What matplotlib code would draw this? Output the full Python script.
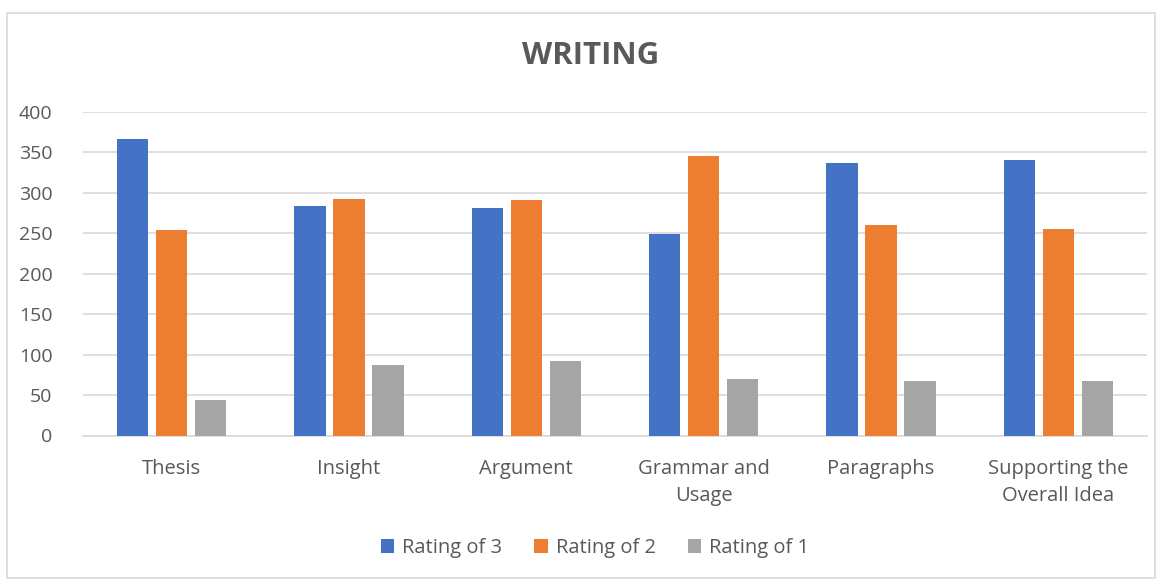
import matplotlib
matplotlib.use("Agg")
import matplotlib.pyplot as plt
import numpy as np
from matplotlib.patches import Rectangle

categories = ["Thesis", "Insight", "Argument", "Grammar and\nUsage", "Paragraphs", "Supporting the\nOverall Idea"]
series_names = ["Rating of 3", "Rating of 2", "Rating of 1"]
rating3 = [366, 284, 281, 249, 337, 341]
rating2 = [254, 292, 291, 345, 260, 255]
rating1 = [44, 87, 92, 70, 67, 68]
colors = ["#4472C4", "#ED7D31", "#A5A5A5"]
yticks = [0, 50, 100, 150, 200, 250, 300, 350, 400]

plt.rcParams['font.family'] = ['Open Sans', 'DejaVu Sans']
txt = "#595959"

fig = plt.figure(figsize=(11.62, 5.8), dpi=100)
fig.patches.append(Rectangle((7/1162, 1-578/580), 1-14/1162, (578-13)/580, transform=fig.transFigure,
                             fill=False, edgecolor="#D9D9D9", linewidth=1.2))
ax = fig.add_axes([83/1162, 1-435.5/580, (1147-83)/1162, (435.5-112)/580])

x = np.arange(len(categories))
w = 0.175
off = 0.22
for i, (vals, name, c) in enumerate(zip([rating3, rating2, rating1], series_names, colors)):
    ax.bar(x + (i-1)*off, vals, width=w, color=c, label=name, zorder=3)

ax.set_xlim(-0.5, len(categories)-0.5)
ax.set_ylim(0, 400)
ax.set_yticks(yticks)
ax.yaxis.grid(True, color="#D9D9D9", linewidth=1.2, zorder=0)
for s in ["top", "right", "left"]:
    ax.spines[s].set_visible(False)
ax.spines["bottom"].set_color("#D9D9D9")
ax.spines["bottom"].set_linewidth(1.2)
ax.tick_params(axis="x", length=0, colors=txt, labelsize=14.5, pad=17)
ax.tick_params(axis="y", length=0, colors=txt, labelsize=14, pad=22)
ax.set_xticks(x)
ax.set_xticklabels(categories, linespacing=1.45)
for lab in ax.get_yticklabels():
    lab.set_horizontalalignment("right")

fig.text(591/1162, 1-56/580, "WRITING", ha="center", va="center", fontsize=22.5, fontweight="bold", color=txt)

leg = fig.legend(loc="center", bbox_to_anchor=(595/1162, 1-548/580), ncol=3, frameon=False,
                 fontsize=14.5, handlelength=0.65, handleheight=0.65, handletextpad=0.4, columnspacing=1.6)
for t in leg.get_texts():
    t.set_color(txt)

fig.savefig("out.png", dpi=100, facecolor="white")
